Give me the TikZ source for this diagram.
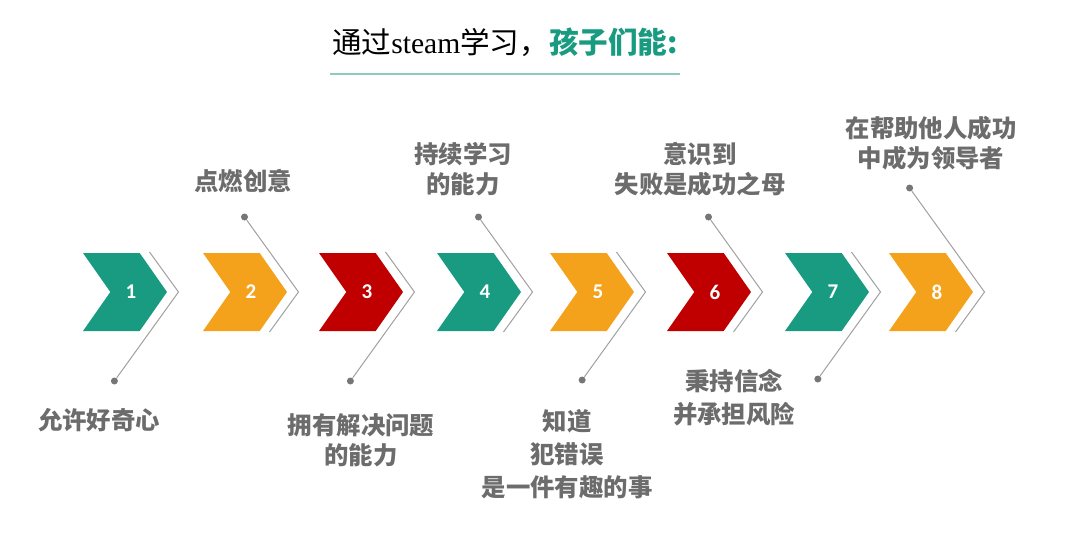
\documentclass[tikz,border=0pt]{standalone}
\usepackage{fontspec}
\setmainfont{Liberation Serif}
\newfontfamily\cjk{Noto Sans CJK SC}
\newfontfamily\digits{Carlito}
\usetikzlibrary{calc,shapes.symbols}
\definecolor{cteal}{RGB}{24,155,128}
\definecolor{corange}{RGB}{244,162,28}
\definecolor{cred}{RGB}{192,0,0}
\definecolor{ctext}{RGB}{108,108,108}
\definecolor{cline}{RGB}{160,160,160}
\definecolor{cdot}{RGB}{118,118,118}
\definecolor{cunder}{RGB}{140,204,188}

\begin{document}
\begin{tikzpicture}[
 x=0.5pt, y=-0.5pt,
 align=center,
 inner sep=0pt,
 chev/.style={signal,signal from=west,signal to=east,signal pointer angle=110,minimum width=42pt,minimum height=39pt,text=white,font=\digits\bfseries\fontsize{10.5}{12}\selectfont},
 note/.style={text=ctext,font=\cjk\bfseries\fontsize{12.2}{15}\selectfont},
 bullet/.style={circle,fill=cdot,minimum size=3.5pt},
 link/.style={draw=cline,line width=0.5pt}
]
\useasboundingbox (0,0) rectangle (1080,557);
\node (title) at (505,42) {\fontsize{14.8}{17}\selectfont{\cjk 通过}steam{\cjk 学习，}{\cjk\bfseries\color{cteal}孩子们能:}};
\coordinate (rule-l) at (330,74);
\coordinate (rule-r) at (680,74);
\draw [cunder,line width=1pt] (rule-l) -- (rule-r);
\foreach \n/\cx/\col/\dy in {1/125/cteal/89, 2/245/corange/-75, 3/361/cred/89, 4/479/cteal/-75,
  5/592/corange/88, 6/709/cred/-75, 7/827/cteal/87, 8/931/corange/-104}
{
 \node (chev\n) [chev,fill=\col] at (\cx,292) {\hspace{6pt}\n};
 \coordinate (tip\n) at ($(chev\n.east)+(11,0)$);
 \coordinate (end\n) at ($(tip\n)+(-29,{-40*sign(\dy)})$);
 \node (dot\n) [bullet] at ($(tip\n)+({-0.72*abs(\dy)},\dy)$) {};
 \draw [link] (dot\n) -- (tip\n) -- (end\n);
}
\node (lab1) [note] at (99,420) {允许好奇心};
\node (lab2) [note] at (243,181) {点燃创意};
\node (lab3) [note] at (361,440) {拥有解决问题\\的能力};
\node (lab4) [note] at (463,169) {持续学习\\的能力};
\node (lab5) [note] at (567,454) {知道\\[1.5pt]犯错误\\[1.5pt]是一件有趣的事};
\node (lab6) [note] at (700,169) {意识到\\失败是成功之母};
\node (lab7) [note] at (734,398) {秉持信念\\[1.5pt]并承担风险};
\node (lab8) [note] at (931,143) {在帮助他人成功\\中成为领导者};
\end{tikzpicture}
\end{document}
